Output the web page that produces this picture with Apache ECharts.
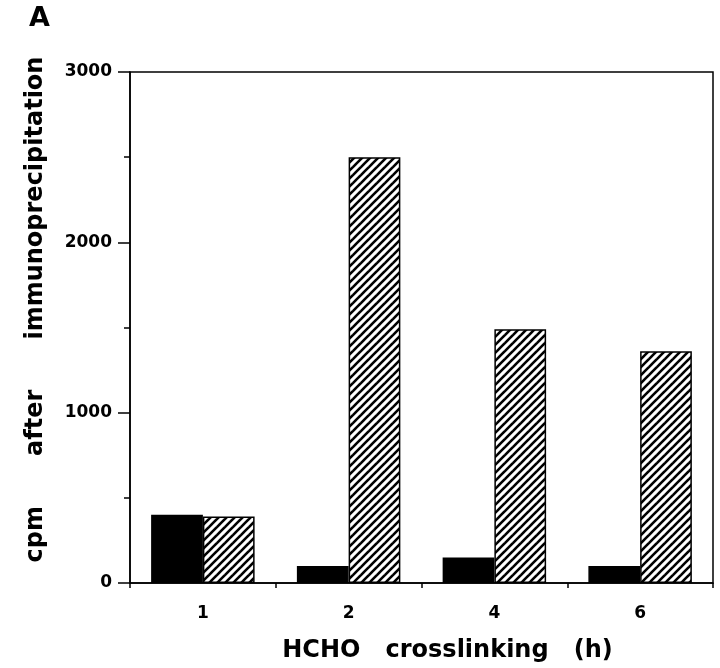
<!DOCTYPE html>
<html>
<head>
    <meta charset="UTF-8">
    <title>HCHO crosslinking</title>
</head>
<body style="margin: 0;overflow: hidden;background: #fff;">
<div id="main" style="width: 720px;height:668px"></div>

<script type="text/javascript" src="https://cdn.jsdelivr.net/npm/echarts@6/dist/echarts.min.js"></script>
<script type="text/javascript">
    // data
    var categories = ['1', '2', '4', '6'];
    var solidValues = [400, 100, 150, 100];
    var hatchedValues = [390, 2500, 1490, 1360];
    var yTicks = [0, 1000, 2000, 3000];

    // diagonal hatch tile
    function hatchPattern() {
        var size = 8;
        var c = document.createElement('canvas');
        c.width = size;
        c.height = size;
        var ctx = c.getContext('2d');
        ctx.fillStyle = '#fff';
        ctx.fillRect(0, 0, size, size);
        ctx.strokeStyle = '#000';
        ctx.lineWidth = 2.6;
        for (var k = -1; k <= 1; k++) {
            ctx.beginPath();
            ctx.moveTo(k * size - 1, size + 1);
            ctx.lineTo(k * size + size + 1, -1);
            ctx.stroke();
        }
        return c;
    }

    var font = 'DejaVu Sans';
    var chart = echarts.init(document.getElementById('main'));
    var option = {
        backgroundColor: '#fff',
        animation: false,
        title: {
            text: 'A',
            left: 24,
            top: 0,
            textStyle: {fontFamily: font, fontWeight: 'bold', fontSize: 27, color: '#000'}
        },
        grid: {
            left: 130,
            right: 7,
            top: 72,
            bottom: 84,
            show: true,
            borderColor: '#000',
            borderWidth: 1.5
        },
        xAxis: {
            type: 'category',
            data: categories,
            name: 'HCHO   crosslinking   (h)',
            nameLocation: 'middle',
            nameGap: 56,
            nameTextStyle: {fontFamily: font, fontWeight: 'bold', fontSize: 24, color: '#000', padding: [0, 0, 0, 52]},
            axisLine: {lineStyle: {color: '#000', width: 1.5}},
            axisTick: {show: true, length: 5, lineStyle: {color: '#000', width: 1.5}},
            axisLabel: {fontFamily: font, fontWeight: 'bold', fontSize: 17, color: '#000', margin: 22}
        },
        yAxis: {
            type: 'value',
            min: yTicks[0],
            max: yTicks[yTicks.length - 1],
            interval: 1000,
            name: 'cpm      after      immunoprecipitation',
            nameLocation: 'middle',
            nameGap: 82,
            nameTextStyle: {fontFamily: font, fontWeight: 'bold', fontSize: 24, color: '#000', padding: [0, 0, 0, 36]},
            axisLine: {show: true, lineStyle: {color: '#000', width: 1.5}},
            axisTick: {show: true, length: 12, lineStyle: {color: '#000', width: 1.5}},
            minorTick: {show: true, splitNumber: 2, length: 6, lineStyle: {color: '#000', width: 1.5}},
            splitLine: {show: false},
            axisLabel: {
                fontFamily: font, fontWeight: 'bold', fontSize: 17, color: '#000', margin: 18,
                formatter: function (v) { return String(v); }
            }
        },
        series: [{
            name: 'solid',
            type: 'bar',
            data: solidValues,
            barGap: '0%',
            barCategoryGap: '29%',
            itemStyle: {color: '#000', borderColor: '#000', borderWidth: 1.5}
        }, {
            name: 'hatched',
            type: 'bar',
            data: hatchedValues,
            itemStyle: {
                color: {image: hatchPattern(), repeat: 'repeat'},
                borderColor: '#000',
                borderWidth: 1.5
            }
        }]
    };
    chart.setOption(option);
</script>
</body>
</html>
